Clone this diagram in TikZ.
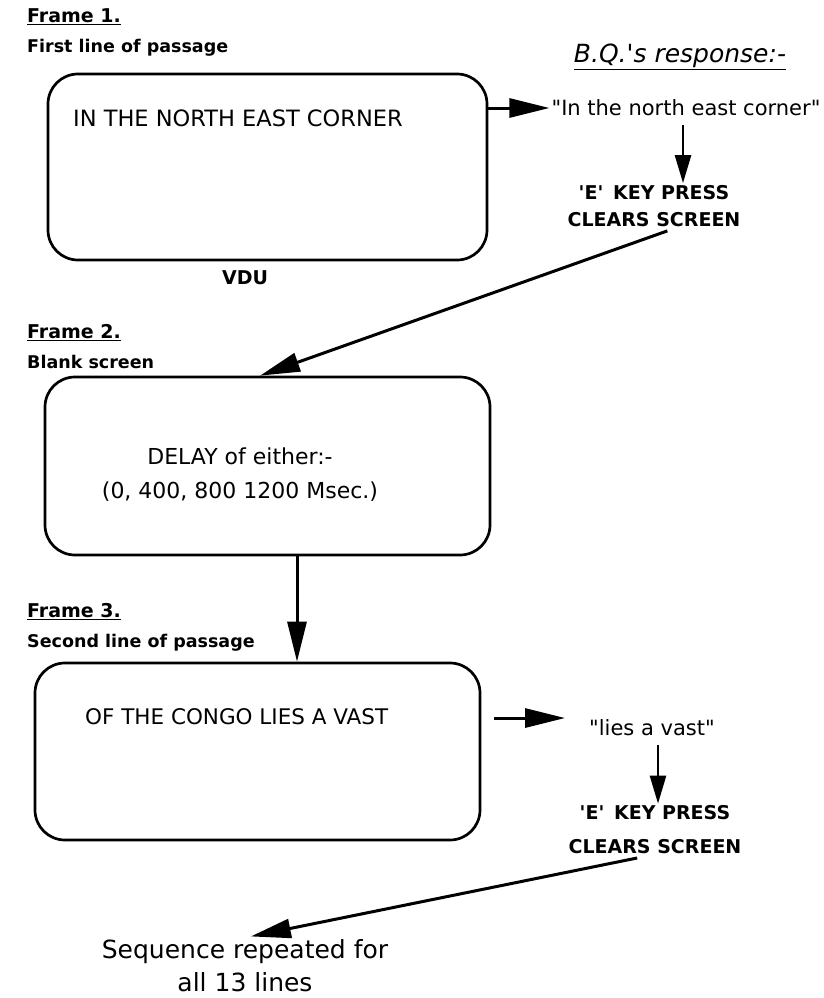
\documentclass[tikz,border=0pt]{standalone}
\usepackage{fontspec}
\setmainfont{DejaVu Sans}[Ligatures=TeXOff]
\usetikzlibrary{arrows.meta}

\tikzset{
  screen/.style={draw, line width=2.7pt, rounded corners=30pt, inner sep=0pt},
  heading/.style={anchor=west, inner sep=2pt, font=\bfseries\fontsize{19}{23}\selectfont},
  subhead/.style={anchor=west, inner sep=2pt, font=\bfseries\fontsize{17.5}{21}\selectfont},
  shown/.style={inner sep=2pt, font=\fontsize{21.5}{25}\selectfont},
  said/.style={inner sep=2pt, font=\fontsize{21}{25}\selectfont},
  keypress/.style={inner sep=2pt, align=center, font=\bfseries\fontsize{19}{23}\selectfont},
  flow/.style={-{Triangle[length=40pt,width=19pt]}, line width=3pt},
  push/.style={-{Triangle[length=28pt,width=16pt]}, line width=2.6pt}
}

\begin{document}
\begin{tikzpicture}[x=1pt,y=-1pt]
  \useasboundingbox (0,0) rectangle (824,998);

  % Frame 1: first line on the screen
  \node[heading] (frameA) at (25,17) {\underline{Frame 1.}};
  \node[subhead] (subA) at (25,48) {First line of passage};
  \node[screen, minimum width=439pt, minimum height=186pt] (vduA) at (267.5,167) {};
  \node[shown, anchor=west, font=\fontsize{22.5}{26}\selectfont] (lineA) at (71,118) {IN THE NORTH EAST CORNER};
  \node[heading, anchor=center] (vdu) at (245,278) {VDU};

  % what the reader says
  \node[inner sep=2pt, font=\itshape\fontsize{25}{30}\selectfont] (reply) at (680,57) {\underline{B.Q.'s response:-}};
  \node[said] (saidA) at (686,108) {"In the north east corner"};
  \node[keypress] (keyA) at (654,206) {'E'\, KEY PRESS\\[4pt] CLEARS SCREEN};

  % Frame 2: blank screen
  \node[heading] (frameB) at (25,333) {\underline{Frame 2.}};
  \node[subhead] (subB) at (25,362) {Blank screen};
  \node[screen, minimum width=445pt, minimum height=178pt] (blank) at (267.5,466) {};
  \node[shown, align=center, font=\fontsize{22}{25}\selectfont] (delay) at (240,475) {DELAY of either:-\\[9pt] (0, 400, 800 1200 Msec.)};

  % Frame 3: second line on the screen
  \node[heading] (frameC) at (25,612) {\underline{Frame 3.}};
  \node[subhead] (subC) at (25,643) {Second line of passage};
  \node[screen, minimum width=445pt, minimum height=177pt] (vduC) at (257.5,751.5) {};
  \node[shown, anchor=west] (lineC) at (83,717) {OF THE CONGO LIES A VAST};

  \node[said] (saidC) at (652,728) {"lies a vast"};
  \node[keypress] (keyC) at (655,830) {'E'\, KEY PRESS\\[11pt] CLEARS SCREEN};

  \node[inner sep=2pt, align=center, font=\fontsize{25}{30}\selectfont] (repeat) at (245,966) {Sequence repeated for\\[3pt] all 13 lines};

  % arrows
  \draw[flow] (vduA.east |- saidA.west) -- (saidA.west);
  \draw[push] ([xshift=-3pt,yshift=-7pt]saidA.south) -- ([xshift=-3pt]saidA.south |- keyA.north);
  \draw[flow, shorten <=6pt] ([xshift=19pt]keyA.south) -- ([xshift=-7.5pt]blank.north);
  \draw[flow] ([xshift=29.5pt]blank.south) -- ([xshift=29.5pt]blank.south |- vduC.north);
  \draw[flow] ([xshift=13pt,yshift=10pt]vduC.east |- saidC.west) -- ([xshift=-22pt,yshift=10pt]saidC.west);
  \draw[push] ([xshift=6pt,yshift=-7pt]saidC.south) -- ([xshift=6pt]saidC.south |- keyC.north);
  \draw[flow, shorten <=8pt, shorten >=6pt] ([xshift=-10pt]keyC.south) -- (repeat.north);

\end{tikzpicture}
\end{document}
